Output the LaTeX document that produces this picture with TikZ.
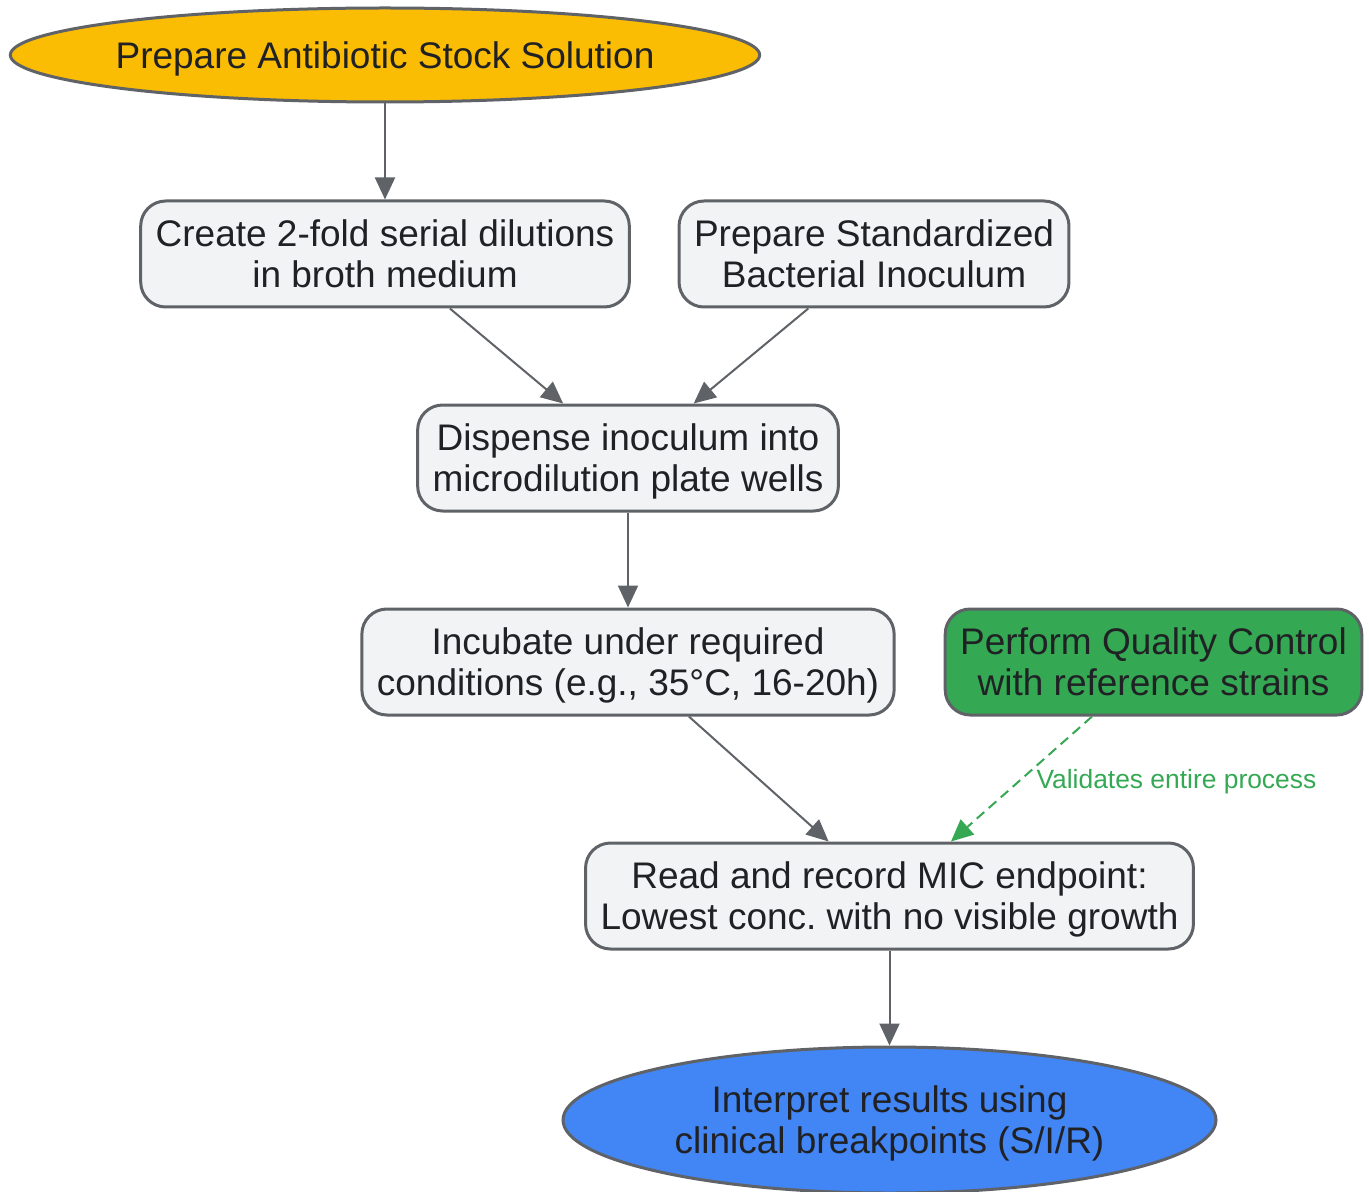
\documentclass[tikz,border=0pt]{standalone}
\usepackage{fontspec}
\setmainfont{Liberation Sans}
\usetikzlibrary{shapes.geometric, arrows.meta, positioning}

\definecolor{boxfill}{HTML}{F1F3F4}
\definecolor{boxline}{HTML}{5F6368}
\definecolor{textdark}{HTML}{202124}
\definecolor{startgold}{HTML}{FBBC04}
\definecolor{endblue}{HTML}{4285F4}
\definecolor{qcgreen}{HTML}{34A853}

\tikzset{
	stepbox/.style={draw=boxline, line width=1.5pt, fill=boxfill, rounded corners=12.5pt,
		minimum height=53pt, inner xsep=7.5pt, inner ysep=0pt, align=center, text=textdark,
		text depth=0pt, font=\fontsize{18.5}{20.5}\selectfont},
	terminal/.style={ellipse, draw=boxline, line width=1.5pt, inner sep=0pt, align=center,
		text=textdark, text depth=-2pt, font=\fontsize{18.5}{20.5}\selectfont},
	flow/.style={draw=boxline, line width=1pt, -{Triangle[length=11pt,width=10pt]}},
	qcflow/.style={draw=qcgreen, line width=1pt, dash pattern=on 5pt off 3pt,
		-{Triangle[length=11pt,width=10pt]}},
}

\begin{document}
\frenchspacing
\begin{tikzpicture}[x=0.5pt, y=-0.5pt]
	\useasboundingbox (0,0) rectangle (1369,1192);
	
	%// nodes, positions in px of the source picture
	\node [terminal, fill=startgold, inner xsep=-2.25pt, minimum height=47pt] (stock) at (385,55) {Prepare Antibiotic Stock Solution};
	
	\node [stepbox] (dilute) at (385,254) {Create 2-fold serial dilutions\\in broth medium};
	\node [stepbox] (inoculum) at (874,254) {Prepare Standardized\\Bacterial Inoculum};
	
	\node [stepbox] (dispense) at (628,458) {Dispense inoculum into\\microdilution plate wells};
	
	\node [stepbox] (incubate) at (628,662) {Incubate under required\\conditions (e.g., 35°C, 16-20h)};
	\node [stepbox, fill=qcgreen] (qc) at (1153.5,662) {Perform Quality Control\\with reference strains};
	
	\node [stepbox] (read) at (889.5,896) {Read and record MIC endpoint:\\Lowest conc. with no visible growth};
	
	\node [terminal, fill=endblue, minimum width=326.5pt, minimum height=73pt] (interpret) at (889.5,1120) {Interpret results using\\clinical breakpoints (S/I/R)};
	
	%// connectors
	\draw [flow] (stock) -- (dilute);
	\draw [flow] (dilute) -- (dispense);
	\draw [flow] (inoculum) -- (dispense);
	\draw [flow] (dispense) -- (incubate);
	\draw [flow] (incubate) -- (read);
	\draw [qcflow] (qc) -- node [pos=0.5, anchor=west, inner sep=0pt, xshift=7pt, yshift=-1.5pt, text=qcgreen, font=\fontsize{13.2}{15}\selectfont] (qclabel) {Validates entire process} (read);
	\draw [flow] (read) -- (interpret);
\end{tikzpicture}
\end{document}
